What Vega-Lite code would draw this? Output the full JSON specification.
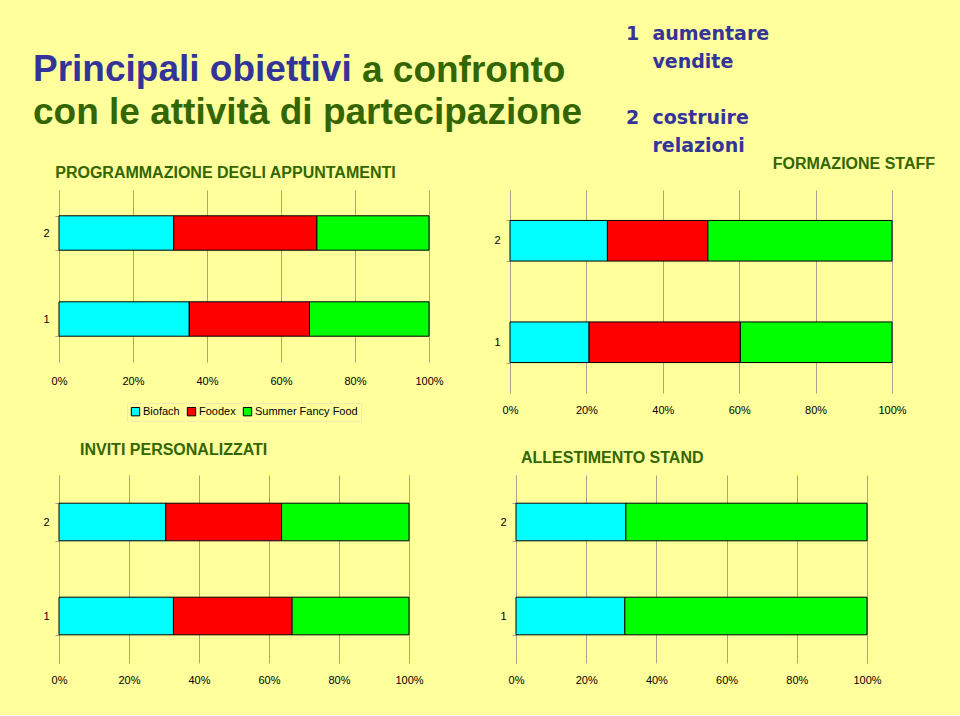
{
  "$schema": "https://vega.github.io/schema/vega-lite/v6.json",
  "background": "#FFFF9C",
  "padding": {"left": 33, "top": 25, "right": 24, "bottom": 30},
  "title": {
    "text": "Principali obiettivi",
    "anchor": "start",
    "offset": -64,
    "font": "Liberation Sans",
    "fontSize": 37,
    "fontWeight": "bold",
    "color": "#333399"
  },
  "datasets": {
    "d": [
      {"panel": "A", "obiettivo": "2", "fiera": "Biofach", "valore": 31.0},
      {"panel": "A", "obiettivo": "2", "fiera": "Foodex", "valore": 38.7},
      {"panel": "A", "obiettivo": "2", "fiera": "Summer Fancy Food", "valore": 30.3},
      {"panel": "A", "obiettivo": "1", "fiera": "Biofach", "valore": 35.2},
      {"panel": "A", "obiettivo": "1", "fiera": "Foodex", "valore": 32.5},
      {"panel": "A", "obiettivo": "1", "fiera": "Summer Fancy Food", "valore": 32.3},
      {"panel": "B", "obiettivo": "2", "fiera": "Biofach", "valore": 25.5},
      {"panel": "B", "obiettivo": "2", "fiera": "Foodex", "valore": 26.3},
      {"panel": "B", "obiettivo": "2", "fiera": "Summer Fancy Food", "valore": 48.2},
      {"panel": "B", "obiettivo": "1", "fiera": "Biofach", "valore": 20.7},
      {"panel": "B", "obiettivo": "1", "fiera": "Foodex", "valore": 39.6},
      {"panel": "B", "obiettivo": "1", "fiera": "Summer Fancy Food", "valore": 39.7},
      {"panel": "C", "obiettivo": "2", "fiera": "Biofach", "valore": 30.5},
      {"panel": "C", "obiettivo": "2", "fiera": "Foodex", "valore": 33.1},
      {"panel": "C", "obiettivo": "2", "fiera": "Summer Fancy Food", "valore": 36.4},
      {"panel": "C", "obiettivo": "1", "fiera": "Biofach", "valore": 32.7},
      {"panel": "C", "obiettivo": "1", "fiera": "Foodex", "valore": 33.9},
      {"panel": "C", "obiettivo": "1", "fiera": "Summer Fancy Food", "valore": 33.4},
      {"panel": "D", "obiettivo": "2", "fiera": "Biofach", "valore": 31.3},
      {"panel": "D", "obiettivo": "2", "fiera": "Summer Fancy Food", "valore": 68.7},
      {"panel": "D", "obiettivo": "1", "fiera": "Biofach", "valore": 31.0},
      {"panel": "D", "obiettivo": "1", "fiera": "Summer Fancy Food", "valore": 69.0}
    ]
  },
  "config": {
    "view": {"stroke": null},
    "axis": {
      "labelFont": "Liberation Sans",
      "labelFontSize": 11,
      "labelColor": "#000000",
      "title": null
    },
    "axisX": {
      "domain": false,
      "ticks": false,
      "grid": true,
      "gridColor": "#A8A48C",
      "gridWidth": 1,
      "gridOpacity": 1,
      "labelPadding": 13,
      "labelOverlap": false,
      "labelFlush": false
    },
    "axisY": {
      "grid": false,
      "domainColor": "#A8A48C",
      "tickColor": "#A8A48C",
      "tickSize": 4,
      "tickBand": "extent",
      "labelPadding": 6
    },
    "title": {
      "font": "Liberation Sans",
      "fontWeight": "bold",
      "color": "#336600",
      "subtitleFont": "Liberation Sans",
      "subtitleFontWeight": "bold",
      "subtitleColor": "#336600",
      "subtitleFontSize": 16
    }
  },
  "resolve": {"scale": {"color": "independent"}, "legend": {"color": "independent"}},
  "spacing": 20,
  "vconcat": [
    {
      "hconcat": [
        {
          "title": {
            "text": ["\u200b\u00a0\u00a0\u00a0\u00a0\u00a0\u00a0\u00a0\u00a0\u00a0\u00a0\u00a0\u00a0\u00a0\u00a0\u00a0\u00a0\u00a0\u00a0\u00a0\u00a0\u00a0\u00a0\u00a0\u00a0\u00a0\u00a0\u00a0\u00a0\u00a0\u00a0\u00a0\u00a0a confronto", "con le attività di partecipazione"],
            "subtitle": "\u200b\u00a0\u00a0\u00a0\u00a0\u00a0PROGRAMMAZIONE DEGLI APPUNTAMENTI",
            "anchor": "start",
            "frame": "group",
            "fontSize": 37,
            "lineHeight": 42,
            "subtitlePadding": 33,
            "dx": -26,
            "offset": 2
          },
          "width": 370,
          "height": 172,
          "data": {"name": "d"},
          "transform": [{"filter": "datum.panel == 'A'"}],
          "mark": {"type": "bar", "stroke": "#000000", "strokeWidth": 1},
          "encoding": {
            "y": {"field": "obiettivo", "type": "nominal", "sort": "descending",
                  "scale": {"paddingInner": 0.6, "paddingOuter": 0.3}},
            "x": {"field": "valore", "type": "quantitative", "stack": "normalize",
                  "axis": {"format": "%", "values": [0, 0.2, 0.4, 0.6, 0.8, 1]}},
            "color": {"field": "fiera", "type": "nominal",
                      "scale": {"domain": ["Biofach", "Foodex", "Summer Fancy Food"], "range": ["#00FFFF", "#FF0000", "#00FF00"]},
                      "legend": {"orient": "none", "legendX": 68, "legendY": 213, "direction": "horizontal", "title": null,
                                 "symbolType": "square", "symbolSize": 70, "symbolStrokeColor": "#000000", "symbolStrokeWidth": 1,
                                 "symbolOpacity": 1, "labelFont": "Liberation Sans", "labelFontSize": 11, "labelColor": "#000000",
                                 "columnPadding": 5, "labelOffset": 2, "padding": 3, "strokeColor": "#F0EBB0"}}
          }
        },
        {
          "title": {
            "text": ["1\u00a0\u00a0aumentare", "\u200b\u2007\u00a0\u00a0vendite", "\u200b", "2\u00a0\u00a0costruire", "\u200b\u2007\u00a0\u00a0relazioni"],
            "subtitle": "\u200b\u00a0\u00a0\u00a0\u00a0\u00a0\u00a0\u00a0\u00a0\u00a0\u00a0\u00a0\u00a0\u00a0\u00a0\u00a0\u00a0\u00a0\u00a0\u00a0\u00a0\u00a0\u00a0\u00a0\u00a0\u00a0\u00a0\u00a0\u00a0\u00a0\u00a0\u00a0\u00a0\u00a0FORMAZIONE STAFF",
            "anchor": "start",
            "frame": "group",
            "font": "DejaVu Sans",
            "fontSize": 19,
            "lineHeight": 28,
            "color": "#333399",
            "subtitlePadding": 0,
            "dx": 116,
            "offset": 12
          },
          "width": 382,
          "height": 203,
          "data": {"name": "d"},
          "transform": [{"filter": "datum.panel == 'B'"}],
          "mark": {"type": "bar", "stroke": "#000000", "strokeWidth": 1},
          "encoding": {
            "y": {"field": "obiettivo", "type": "nominal", "sort": "descending",
                  "scale": {"paddingInner": 0.6, "paddingOuter": 0.3}},
            "x": {"field": "valore", "type": "quantitative", "stack": "normalize",
                  "axis": {"format": "%", "values": [0, 0.2, 0.4, 0.6, 0.8, 1], "labelPadding": 11}},
            "color": {"field": "fiera", "type": "nominal",
                      "scale": {"domain": ["Biofach", "Foodex", "Summer Fancy Food"], "range": ["#00FFFF", "#FF0000", "#00FF00"]},
                      "legend": null}
          }
        }
      ],
      "spacing": 81,
      "bounds": "flush",
      "resolve": {"scale": {"color": "independent"}, "legend": {"color": "independent"}}
    },
    {
      "hconcat": [
        {
          "title": {
            "text": "INVITI PERSONALIZZATI",
            "anchor": "start",
            "frame": "group",
            "fontSize": 16,
            "dx": 21,
            "offset": 11
          },
          "width": 350,
          "height": 188,
          "data": {"name": "d"},
          "transform": [{"filter": "datum.panel == 'C'"}],
          "mark": {"type": "bar", "stroke": "#000000", "strokeWidth": 1},
          "encoding": {
            "y": {"field": "obiettivo", "type": "nominal", "sort": "descending",
                  "scale": {"paddingInner": 0.6, "paddingOuter": 0.3}},
            "x": {"field": "valore", "type": "quantitative", "stack": "normalize",
                  "axis": {"format": "%", "values": [0, 0.2, 0.4, 0.6, 0.8, 1], "labelPadding": 11}},
            "color": {"field": "fiera", "type": "nominal",
                      "scale": {"domain": ["Biofach", "Foodex", "Summer Fancy Food"], "range": ["#00FFFF", "#FF0000", "#00FF00"]},
                      "legend": null}
          }
        },
        {
          "title": {
            "text": "ALLESTIMENTO STAND",
            "anchor": "start",
            "frame": "group",
            "fontSize": 16,
            "dx": 5,
            "offset": 3
          },
          "width": 351,
          "height": 188,
          "data": {"name": "d"},
          "transform": [{"filter": "datum.panel == 'D'"}],
          "mark": {"type": "bar", "stroke": "#000000", "strokeWidth": 1},
          "encoding": {
            "y": {"field": "obiettivo", "type": "nominal", "sort": "descending",
                  "scale": {"paddingInner": 0.6, "paddingOuter": 0.3}},
            "x": {"field": "valore", "type": "quantitative", "stack": "normalize",
                  "axis": {"format": "%", "values": [0, 0.2, 0.4, 0.6, 0.8, 1], "labelPadding": 11}},
            "color": {"field": "fiera", "type": "nominal",
                      "scale": {"domain": ["Biofach", "Foodex", "Summer Fancy Food"], "range": ["#00FFFF", "#FF0000", "#00FF00"]},
                      "legend": null}
          }
        }
      ],
      "spacing": 107,
      "bounds": "flush",
      "resolve": {"scale": {"color": "independent"}, "legend": {"color": "independent"}}
    }
  ]
}
